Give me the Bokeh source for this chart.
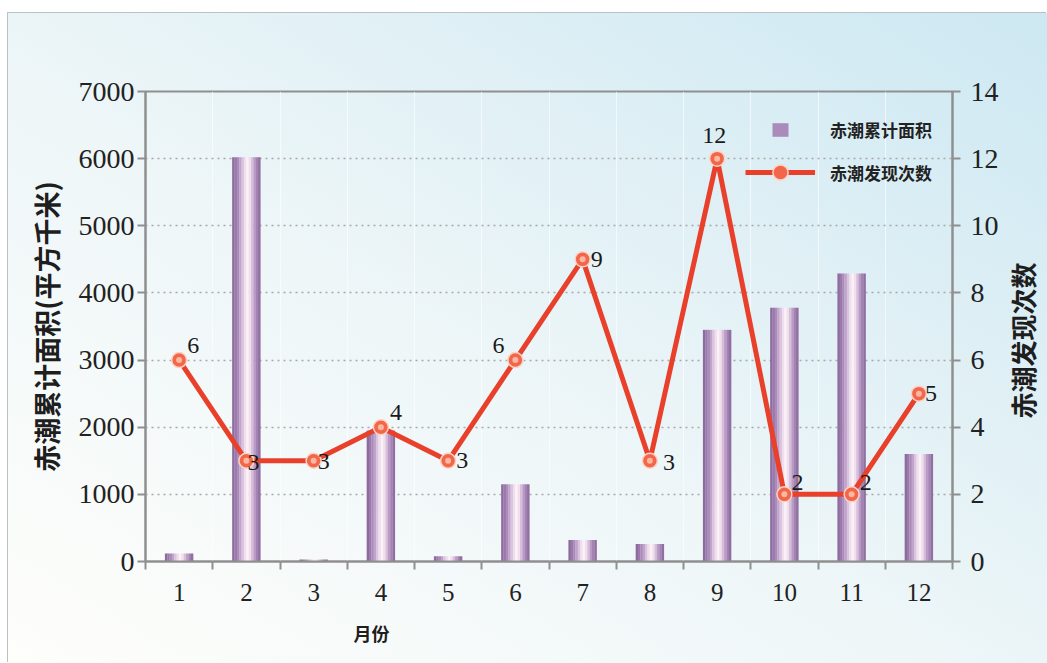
import math
from bokeh.plotting import figure
from bokeh.layouts import row
from bokeh.models import (Range1d, LinearAxis, FixedTicker, ColumnDataSource,
                          Legend, LegendItem, Title, Label)
from bokeh.transform import dodge
from bokeh.core.properties import value
from bokeh.embed import file_html
from bokeh.resources import INLINE

# ---------------- data ----------------
months = [1, 2, 3, 4, 5, 6, 7, 8, 9, 10, 11, 12]
area = [120, 6020, 30, 1950, 80, 1150, 320, 260, 3450, 3780, 4290, 1600]   # 赤潮累计面积
counts = [6, 3, 3, 4, 3, 6, 9, 3, 12, 2, 2, 5]                              # 赤潮发现次数
area_ticks = [0, 1000, 2000, 3000, 4000, 5000, 6000, 7000]
count_ticks = [0, 2, 4, 6, 8, 10, 12, 14]

# label placement (screen offsets, styling only)
label_dx = [14, 7, 10, 15, 14, -17, 14, 19, -3, 13, 14, 12]
label_dy = [-15, 2, 1, -15, 0, -15, 0, 2, -23, -12, -12, 0]

src = ColumnDataSource(dict(
    month=months, area=area, count=counts,
    label=[str(c) for c in counts], dx=label_dx, dy=label_dy,
))

p = figure(width=994, height=650,
           x_range=Range1d(0.5, 12.5), y_range=Range1d(0, 7000),
           output_backend="svg", toolbar_location=None,
           min_border_left=137, min_border_right=50,
           min_border_top=78, min_border_bottom=102)
p.border_fill_color = None
p.background_fill_color = None
p.outline_line_color = "#8f8f8f"
p.outline_line_width = 2

axis_grey = "#8f8f8f"
tick_font = "Liberation Serif"

# x axis
xa = p.xaxis[0]
xa.ticker = FixedTicker(ticks=months, minor_ticks=[m - 0.5 for m in months] + [12.5])
xa.major_label_overrides = {m: str(m) for m in months}
xa.major_tick_out = 0
xa.major_tick_in = 0
xa.minor_tick_out = 8
xa.minor_tick_in = 0
xa.minor_tick_line_color = axis_grey
xa.minor_tick_line_width = 2
xa.axis_line_color = axis_grey
xa.axis_line_width = 2
xa.major_label_text_font = tick_font
xa.major_label_text_font_size = "25px"
xa.major_label_text_color = "#222222"
xa.major_label_standoff = 14

# left y axis
ya = p.yaxis[0]
ya.ticker = FixedTicker(ticks=area_ticks)
ya.major_tick_out = 8
ya.major_tick_in = 0
ya.minor_tick_out = 0
ya.minor_tick_in = 0
ya.major_tick_line_color = axis_grey
ya.major_tick_line_width = 2
ya.axis_line_color = axis_grey
ya.axis_line_width = 2
ya.major_label_text_font = tick_font
ya.major_label_text_font_size = "28px"
ya.major_label_text_color = "#222222"
ya.major_label_standoff = 3
ya.axis_label = "赤潮累计面积(平方千米)"
ya.axis_label_text_font = "Noto Sans CJK SC"
ya.axis_label_text_font_size = "27px"
ya.axis_label_text_font_style = "bold"
ya.axis_label_text_color = "#1e1e1e"
ya.axis_label_standoff = 10

# right y axis
p.extra_y_ranges = {"cnt": Range1d(0, 14)}
ra = LinearAxis(y_range_name="cnt", ticker=FixedTicker(ticks=count_ticks))
ra.major_tick_out = 8
ra.major_tick_in = 0
ra.minor_tick_out = 0
ra.minor_tick_in = 0
ra.major_tick_line_color = axis_grey
ra.major_tick_line_width = 2
ra.axis_line_color = axis_grey
ra.axis_line_width = 2
ra.major_label_text_font = tick_font
ra.major_label_text_font_size = "28px"
ra.major_label_text_color = "#222222"
ra.major_label_standoff = 10
p.add_layout(ra, "right")

# grids
p.ygrid.ticker = FixedTicker(ticks=area_ticks)
p.ygrid.grid_line_color = "#a9a9a9"
p.ygrid.grid_line_dash = "2 4"
p.ygrid.grid_line_width = 1.5
p.xgrid.ticker = FixedTicker(ticks=[m - 0.5 for m in months] + [12.5])
p.xgrid.grid_line_color = "#ffffff"
p.xgrid.grid_line_alpha = 0.6

# bars (cylindrical shading by strips)
bar_colors = ["#8d6b9e", "#9b7aab", "#ab8bb9", "#c1a4cb", "#dac3df", "#efdfec",
              "#fbf1f6", "#f1e0ec", "#d8bedc", "#ba9bc5", "#a383b2", "#926fa2"]
bar_w = 0.42
n = len(bar_colors)
sw = bar_w / n
bar_renderers = []
for i, c in enumerate(bar_colors):
    off = -bar_w / 2 + sw * (i + 0.5)
    r = p.vbar(x=dodge("month", off), top="area", width=sw * 1.08, bottom=0,
               source=src, fill_color=c, line_color=None)
    bar_renderers.append(r)

# line + markers
line_r = p.line("month", "count", source=src, y_range_name="cnt",
                line_color="#e8402a", line_width=5)
mk_r = p.scatter("month", "count", source=src, y_range_name="cnt", size=15,
                 fill_color="#f2674c", line_color="#fcd3c4", line_width=1.5)
mk2_r = p.scatter("month", "count", source=src, y_range_name="cnt", size=6,
                  fill_color="#fbb8a0", line_color=None)

# value labels
p.text("month", "count", text="label", source=src, y_range_name="cnt",
       x_offset="dx", y_offset="dy", text_align="center", text_baseline="middle",
       text_font=value(tick_font), text_font_size="24px", text_color="#1a1a1a")

# legends
leg_common = dict(border_line_color=None, background_fill_alpha=0, padding=0,
                  margin=0, spacing=0, label_text_font="Noto Sans CJK SC",
                  label_text_font_size="17px", label_text_font_style="bold",
                  label_text_color="#222222", label_height=20)
leg1 = Legend(items=[LegendItem(label="赤潮累计面积", renderers=[bar_renderers[2]])],
              location=(625, 419), glyph_width=20, glyph_height=17,
              label_standoff=40, **leg_common)
leg2 = Legend(items=[LegendItem(label="赤潮发现次数", renderers=[line_r, mk_r])],
              location=(600, 370), glyph_width=70, glyph_height=38,
              label_standoff=15, **leg_common)
p.add_layout(leg1, "center")
p.add_layout(leg2, "center")

# x axis title (placed off-centre as in the original)
p.add_layout(Title(text="月份", align="left", offset=208, standoff=28,
                   text_font="Noto Sans CJK SC", text_font_size="18px",
                   text_font_style="bold", text_color="#1e1e1e"), "below")

# narrow side panel holding the right axis title (reads bottom-to-top)
p2 = figure(width=45, height=650, x_range=Range1d(0, 1), y_range=Range1d(0, 1),
            output_backend="svg", toolbar_location=None,
            min_border_left=0, min_border_right=0, min_border_top=0,
            min_border_bottom=0)
p2.axis.visible = False
p2.grid.visible = False
p2.outline_line_color = None
p2.border_fill_color = None
p2.background_fill_color = None
p2.add_layout(Label(x=20, y=221, x_units="screen", y_units="screen",
                    text="赤潮发现次数", angle=math.pi / 2,
                    text_align="center", text_baseline="middle",
                    text_font="Noto Sans CJK SC", text_font_size="26px",
                    text_font_style="bold", text_color="#1e1e1e"))

layout = row(p, p2)
layout.margin = (13, 0, 0, 8)
layout.styles = {
    "background": "linear-gradient(to top right, #fefefb 0%, #eef6f8 45%, #cde8f2 100%)",
    "box-shadow": "-1px -1px 0 #b9c3c6",
}

open("out.html", "w").write(file_html(layout, INLINE))
